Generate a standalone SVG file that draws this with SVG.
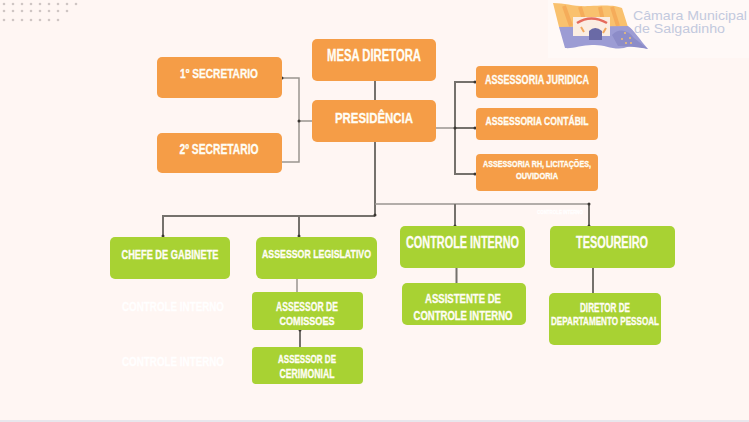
<svg xmlns="http://www.w3.org/2000/svg" width="749" height="422" viewBox="0 0 749 422">
<defs>
<filter id="soft" x="-5%" y="-5%" width="110%" height="110%"><feGaussianBlur stdDeviation="0.7"/></filter>
<filter id="txt" x="-5%" y="-20%" width="110%" height="140%"><feGaussianBlur stdDeviation="0.25"/></filter>
</defs>
<style>
.o{fill:#F59D47}
.g{fill:#A8D233}
text{font-family:"Liberation Sans",Arial,sans-serif;font-weight:700;fill:#FFFDF5;text-anchor:middle;stroke:#FFFDF5;stroke-width:.3}
.c{fill:none;stroke:#9A9590;stroke-width:1.5}
.k{fill:none;stroke:#75716C;stroke-width:2}
.d{fill:#3A3632}
.ghost{fill:#FFFFFF;stroke:#FFFFFF}
.dots circle{fill:#CFC6C4}
.lt{font-weight:400;fill:#C3C9DE;stroke:none;text-anchor:start}
</style>
<rect width="749" height="422" fill="#FFF6F3"/>
<rect y="420" width="749" height="2" fill="#E8E6EC"/>
<g id="dots" class="dots">
<circle cx="4" cy="4" r="1.300"/><circle cx="13" cy="4" r="1.300"/><circle cx="22" cy="4" r="1.300"/><circle cx="31" cy="4" r="1.300"/><circle cx="40" cy="4" r="1.300"/><circle cx="49" cy="4" r="1.300"/><circle cx="58" cy="4" r="1.300"/><circle cx="67" cy="4" r="1.300"/><circle cx="76" cy="4" r="1.300"/>
<circle cx="4" cy="11" r="1.300"/><circle cx="13" cy="11" r="1.300"/><circle cx="22" cy="11" r="1.300"/><circle cx="31" cy="11" r="1.300"/><circle cx="40" cy="11" r="1.300"/><circle cx="49" cy="11" r="1.300"/><circle cx="58" cy="11" r="1.300"/><circle cx="67" cy="11" r="1.300"/>
<circle cx="4" cy="20" r="1.300"/><circle cx="13" cy="20" r="1.300"/><circle cx="22" cy="20" r="1.300"/><circle cx="31" cy="20" r="1.300"/><circle cx="40" cy="20" r="1.300"/><circle cx="49" cy="20" r="1.300"/><circle cx="58" cy="20" r="1.300"/>
</g>
<g id="logo">
<rect x="548" y="0" width="201" height="58" fill="#FFF9F7"/>
<g filter="url(#soft)">
<path d="M553 3 C566 3 574 7 590 6 C604 5 616 5 622 8 L628 27 L600 27 L559 27 Z" fill="#F9C16E"/>
<path d="M564 6 L571 26 M580 7 L586 26 M600 7 L604 26 M612 7 L618 26" stroke="#F5AC5A" stroke-width="4" fill="none"/>
<path d="M559 27 L628 26 C634 30 640 40 648 49 C640 47 632 45 624 48 C612 50 604 44 592 45 C582 45 572 49 565 48 Z" fill="#9C9CD4"/>
<path d="M612 35 C620 26 630 32 634 38 L648 49 C638 47 626 46 618 46 Z" fill="#8C8CC8"/>
<rect x="573" y="17" width="37" height="19" fill="#FBEDE2"/>
<path d="M589 40 V31 Q595 25 602 31 V40 Z" fill="#6A6AA6"/>
<path d="M577 23 Q591 14 607 23" fill="none" stroke="#E56A5C" stroke-width="2.500"/>
<path d="M581 27 l3 5 M606 28 l-3 5" stroke="#F2A85E" stroke-width="2" fill="none"/>
<circle cx="625" cy="33" r="1" fill="#F0C070"/><circle cx="630" cy="38" r="1" fill="#F0C070"/><circle cx="622" cy="39" r="1" fill="#F0C070"/><circle cx="631" cy="43" r="1" fill="#F0C070"/><circle cx="626" cy="43" r="1" fill="#F0C070"/>
</g>
<text class="lt" x="633" y="20" font-size="13.500" textLength="114" lengthAdjust="spacingAndGlyphs">Câmara Municipal</text>
<text class="lt" x="634" y="33" font-size="12" textLength="91" lengthAdjust="spacingAndGlyphs">de Salgadinho</text>
</g>
<g id="connectors">
<path class="c" d="M282 78H299V162H282M299 121H312"/>
<path class="k" d="M375 81V100M375 142V216M163 237V216H375"/>
<path class="c" d="M375 204H589"/>
<path class="k" d="M455 204V226M589 204V226M299 216V237M300 330V347"/>
<path class="c" d="M297 279V292"/>
<path class="k" d="M456.500 268V283M593 268V293"/>
<path class="c" d="M436 128H455"/>
<path class="k" d="M476 82H455V174H476M455 128H476"/>
<circle class="d" cx="282" cy="78" r="1.500"/><circle class="d" cx="299" cy="121" r="1.500"/>
<circle class="d" cx="475" cy="82" r="1.500"/><circle class="d" cx="455" cy="128" r="1.500"/><circle class="d" cx="475" cy="128" r="1.500"/><circle class="d" cx="475" cy="174" r="1.500"/>
<circle class="d" cx="375" cy="215" r="1.500"/><circle class="d" cx="589" cy="204" r="1.500"/><circle class="d" cx="163" cy="236" r="1.500"/><circle class="d" cx="299" cy="236" r="1.500"/><circle class="d" cx="455" cy="226" r="1.500"/><circle class="d" cx="589" cy="226" r="1.500"/><circle class="d" cx="300" cy="330" r="1.500"/>
</g>
<g id="ghost-labels">
<text class="ghost" x="173" y="311" font-size="13" textLength="102" lengthAdjust="spacingAndGlyphs">CONTROLE INTERNO</text>
<text class="ghost" x="173" y="366" font-size="13" textLength="102" lengthAdjust="spacingAndGlyphs">CONTROLE INTERNO</text>
<text class="ghost" x="560" y="214" font-size="6" textLength="46" lengthAdjust="spacingAndGlyphs">CONTROLE INTERNO</text>
</g>
<g id="n-mesa"><rect class="o" x="312" y="39" width="124" height="42" rx="5"/><text x="374" y="61" font-size="16" textLength="94" lengthAdjust="spacingAndGlyphs">MESA DIRETORA</text></g>
<g id="n-presidencia"><rect class="o" x="312" y="100" width="124" height="42" rx="5"/><text x="374" y="123" font-size="15" textLength="78" lengthAdjust="spacingAndGlyphs">PRESIDÊNCIA</text></g>
<g id="n-sec1"><rect class="o" x="157" y="57" width="125" height="41" rx="5"/><text x="219" y="78" font-size="13" textLength="78" lengthAdjust="spacingAndGlyphs">1º SECRETARIO</text></g>
<g id="n-sec2"><rect class="o" x="157" y="133" width="125" height="40" rx="5"/><text x="219" y="154" font-size="14" textLength="79" lengthAdjust="spacingAndGlyphs">2º SECRETARIO</text></g>
<g id="n-juridica"><rect class="o" x="476" y="66" width="122" height="32" rx="4"/><text x="537" y="84" font-size="13" textLength="104" lengthAdjust="spacingAndGlyphs">ASSESSORIA JURIDICA</text></g>
<g id="n-contabil"><rect class="o" x="476" y="108" width="122" height="32" rx="4"/><text x="537" y="125" font-size="11" textLength="103" lengthAdjust="spacingAndGlyphs">ASSESSORIA CONTÁBIL</text></g>
<g id="n-rh"><rect class="o" x="476" y="154" width="122" height="37" rx="4"/><text x="537" y="167" font-size="8.500" textLength="108" lengthAdjust="spacingAndGlyphs">ASSESSORIA RH, LICITAÇÕES,</text><text x="537" y="179" font-size="8.500" textLength="42" lengthAdjust="spacingAndGlyphs">OUVIDORIA</text></g>
<g id="n-chefe"><rect class="g" x="110" y="237" width="120" height="42" rx="5"/><text x="170" y="259" font-size="12" textLength="97" lengthAdjust="spacingAndGlyphs">CHEFE DE GABINETE</text></g>
<g id="n-legislativo"><rect class="g" x="256" y="237" width="121" height="42" rx="6"/><text x="316.500" y="258" font-size="11" textLength="109" lengthAdjust="spacingAndGlyphs">ASSESSOR LEGISLATIVO</text></g>
<g id="n-comissoes"><rect class="g" x="252" y="292" width="111" height="38" rx="4"/><text x="307" y="311" font-size="12" textLength="62" lengthAdjust="spacingAndGlyphs">ASSESSOR DE</text><text x="307" y="325" font-size="11" textLength="55" lengthAdjust="spacingAndGlyphs">COMISSOES</text></g>
<g id="n-cerimonial"><rect class="g" x="252" y="347" width="111" height="37" rx="4"/><text x="307" y="363" font-size="10.500" textLength="58" lengthAdjust="spacingAndGlyphs">ASSESSOR DE</text><text x="307" y="378" font-size="12" textLength="55" lengthAdjust="spacingAndGlyphs">CERIMONIAL</text></g>
<g id="n-controle"><rect class="g" x="400" y="226" width="125" height="42" rx="5"/><text x="462.500" y="248" font-size="16" textLength="113" lengthAdjust="spacingAndGlyphs">CONTROLE INTERNO</text></g>
<g id="n-tesoureiro"><rect class="g" x="550" y="226" width="125" height="42" rx="5"/><text x="612" y="248" font-size="16" textLength="72" lengthAdjust="spacingAndGlyphs">TESOUREIRO</text></g>
<g id="n-assistente"><rect class="g" x="402" y="283" width="124" height="42" rx="5"/><text x="463" y="303" font-size="12" textLength="76" lengthAdjust="spacingAndGlyphs">ASSISTENTE DE</text><text x="463" y="320" font-size="12" textLength="99" lengthAdjust="spacingAndGlyphs">CONTROLE INTERNO</text></g>
<g id="n-diretor"><rect class="g" x="549" y="293" width="112" height="52" rx="5"/><text x="605" y="312" font-size="12" textLength="50" lengthAdjust="spacingAndGlyphs">DIRETOR DE</text><text x="605" y="325" font-size="10.500" textLength="108" lengthAdjust="spacingAndGlyphs">DEPARTAMENTO PESSOAL</text></g>
</svg>
